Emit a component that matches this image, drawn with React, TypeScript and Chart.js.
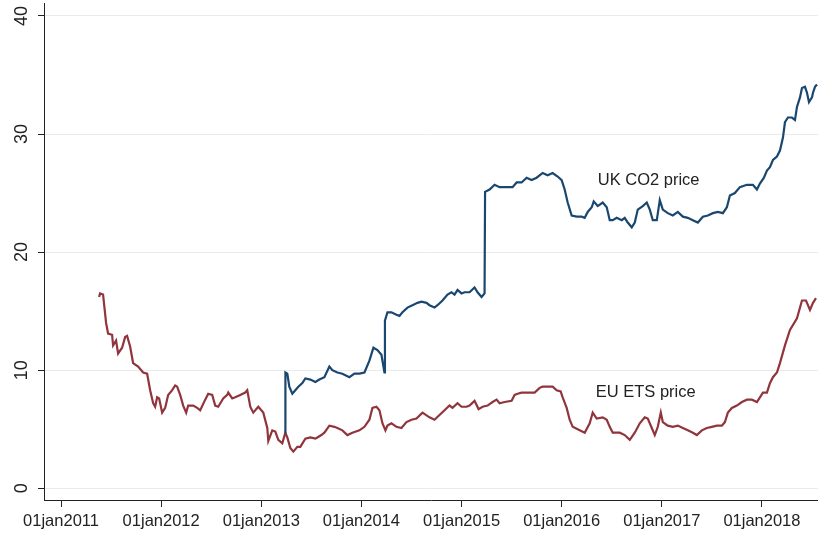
import React, { useEffect, useRef } from "react";
import { Chart, registerables } from "chart.js";

Chart.register(...registerables);

const xTickYears = [2011, 2012, 2013, 2014, 2015, 2016, 2017, 2018];
const yTickValues = [0, 10, 20, 30, 40];

const euYears = [
  2011.38, 2011.39, 2011.42, 2011.45, 2011.47, 2011.51, 2011.52, 2011.55, 2011.57, 2011.61,
  2011.64, 2011.66, 2011.69, 2011.72, 2011.77, 2011.82, 2011.86, 2011.89, 2011.92, 2011.94,
  2011.96, 2011.98, 2012.01, 2012.04, 2012.07, 2012.11, 2012.14, 2012.16, 2012.19, 2012.22,
  2012.25, 2012.27, 2012.32, 2012.36, 2012.39, 2012.44, 2012.47, 2012.51, 2012.54, 2012.57,
  2012.62, 2012.66, 2012.67, 2012.71, 2012.74, 2012.79, 2012.84, 2012.86, 2012.89, 2012.92,
  2012.97, 2013.02, 2013.06, 2013.07, 2013.11, 2013.14, 2013.17, 2013.21, 2013.24, 2013.26,
  2013.29, 2013.32, 2013.36, 2013.39, 2013.44, 2013.49, 2013.54, 2013.56, 2013.60, 2013.63,
  2013.68, 2013.73, 2013.76, 2013.81, 2013.86, 2013.91, 2013.98, 2014.03, 2014.08, 2014.11,
  2014.15, 2014.18, 2014.21, 2014.24, 2014.26, 2014.30, 2014.35, 2014.40, 2014.45, 2014.50,
  2014.55, 2014.61, 2014.68, 2014.73, 2014.78, 2014.83, 2014.88, 2014.91, 2014.96, 2015.00,
  2015.05, 2015.08, 2015.13, 2015.17, 2015.21, 2015.26, 2015.31, 2015.35, 2015.38, 2015.43,
  2015.50, 2015.53, 2015.56, 2015.60, 2015.63, 2015.68, 2015.73, 2015.78, 2015.81, 2015.86,
  2015.91, 2015.95, 2015.99, 2016.01, 2016.05, 2016.08, 2016.11, 2016.18, 2016.23, 2016.28,
  2016.31, 2016.35, 2016.41, 2016.45, 2016.48, 2016.51, 2016.58, 2016.63, 2016.68, 2016.73,
  2016.78, 2016.83, 2016.86, 2016.90, 2016.93, 2016.96, 2016.99, 2017.01, 2017.06, 2017.11,
  2017.16, 2017.21, 2017.26, 2017.31, 2017.35, 2017.40, 2017.45, 2017.50, 2017.55, 2017.60,
  2017.63, 2017.66, 2017.70, 2017.75, 2017.80, 2017.85, 2017.90, 2017.95, 2017.98, 2018.01,
  2018.05, 2018.08, 2018.11, 2018.15, 2018.18, 2018.23, 2018.28, 2018.35, 2018.40, 2018.44,
  2018.48, 2018.51, 2018.54,
];
const euPrices = [
  16.2, 16.5, 16.4, 14.0, 13.1, 13.0, 12.1, 12.5, 11.4, 11.9,
  12.8, 12.9, 12.0, 10.6, 10.3, 9.8, 9.7, 8.3, 7.2, 6.9,
  7.7, 7.6, 6.4, 6.8, 7.9, 8.3, 8.7, 8.6, 7.9, 7.0,
  6.4, 7.0, 7.0, 6.8, 6.6, 7.5, 8.0, 7.9, 7.0, 6.9,
  7.6, 7.9, 8.1, 7.6, 7.7, 7.9, 8.1, 8.3, 6.9, 6.4,
  6.9, 6.4, 5.1, 4.0, 4.9, 4.8, 4.1, 3.8, 4.7, 4.3,
  3.4, 3.1, 3.5, 3.5, 4.2, 4.3, 4.2, 4.3, 4.5, 4.7,
  5.3, 5.2, 5.1, 4.9, 4.5, 4.7, 4.9, 5.2, 5.8, 6.8,
  6.9, 6.6, 5.5, 4.9, 5.3, 5.5, 5.2, 5.1, 5.6, 5.8,
  5.9, 6.4, 6.0, 5.8, 6.2, 6.6, 7.0, 6.8, 7.2, 6.9,
  6.9, 7.0, 7.4, 6.7, 6.9, 7.0, 7.3, 7.5, 7.2, 7.3,
  7.4, 7.9, 8.0, 8.1, 8.1, 8.1, 8.1, 8.5, 8.6, 8.6,
  8.6, 8.3, 8.2, 7.7, 6.8, 5.8, 5.2, 4.9, 4.7, 5.5,
  6.4, 5.9, 6.0, 5.8, 5.2, 4.7, 4.7, 4.5, 4.1, 4.7,
  5.5, 6.0, 5.9, 5.1, 4.5, 5.2, 6.4, 5.6, 5.3, 5.2,
  5.3, 5.1, 4.9, 4.7, 4.5, 4.9, 5.1, 5.2, 5.3, 5.3,
  5.6, 6.4, 6.8, 7.0, 7.3, 7.5, 7.5, 7.3, 7.7, 8.1,
  8.1, 8.9, 9.4, 9.8, 10.6, 12.1, 13.4, 14.4, 15.9, 15.9,
  15.1, 15.7, 16.1,
];

const ukYears = [
  2013.24, 2013.241, 2013.26, 2013.28, 2013.31, 2013.34, 2013.37, 2013.41, 2013.44, 2013.49,
  2013.54, 2013.58, 2013.63, 2013.68, 2013.71, 2013.76, 2013.81, 2013.88, 2013.93, 2013.98,
  2014.03, 2014.08, 2014.12, 2014.16, 2014.20, 2014.23, 2014.235, 2014.26, 2014.30, 2014.35,
  2014.38, 2014.41, 2014.46, 2014.51, 2014.56, 2014.60, 2014.65, 2014.68, 2014.73, 2014.76,
  2014.81, 2014.86, 2014.90, 2014.93, 2014.96, 2015.00, 2015.03, 2015.08, 2015.13, 2015.16,
  2015.20, 2015.23, 2015.235, 2015.28, 2015.33, 2015.38, 2015.45, 2015.51, 2015.55, 2015.60,
  2015.65, 2015.70, 2015.75, 2015.81, 2015.86, 2015.91, 2015.96, 2016.00, 2016.03, 2016.06,
  2016.10, 2016.15, 2016.20, 2016.23, 2016.26, 2016.30, 2016.32, 2016.36, 2016.41, 2016.45,
  2016.48, 2016.51, 2016.55, 2016.60, 2016.63, 2016.66, 2016.70, 2016.73, 2016.76, 2016.81,
  2016.85, 2016.88, 2016.91, 2016.95, 2016.98, 2017.01, 2017.06, 2017.11, 2017.16, 2017.21,
  2017.26, 2017.31, 2017.36, 2017.41, 2017.46, 2017.51, 2017.56, 2017.61, 2017.65, 2017.68,
  2017.73, 2017.78, 2017.85, 2017.91, 2017.95, 2017.98, 2018.02, 2018.05, 2018.08, 2018.11,
  2018.15, 2018.18, 2018.21, 2018.23, 2018.26, 2018.30, 2018.33, 2018.35, 2018.38, 2018.40,
  2018.43, 2018.45, 2018.47, 2018.50, 2018.51, 2018.53, 2018.55,
];
const ukPrices = [
  4.7, 9.8, 9.7, 8.6, 8.0, 8.3, 8.6, 8.9, 9.3, 9.2,
  9.0, 9.2, 9.4, 10.3, 10.0, 9.8, 9.7, 9.4, 9.7, 9.7,
  9.8, 10.8, 11.9, 11.7, 11.3, 9.8, 14.2, 14.9, 14.9, 14.7,
  14.6, 14.9, 15.3, 15.5, 15.7, 15.8, 15.7, 15.5, 15.3, 15.5,
  15.9, 16.4, 16.6, 16.4, 16.8, 16.5, 16.6, 16.6, 17.0, 16.6,
  16.2, 16.5, 25.1, 25.3, 25.7, 25.5, 25.5, 25.5, 25.9, 25.9,
  26.3, 26.1, 26.3, 26.7, 26.5, 26.7, 26.4, 26.1, 25.3, 24.2,
  23.1, 23.0, 23.0, 22.9, 23.4, 23.8, 24.3, 23.9, 24.2, 23.8,
  22.7, 22.7, 22.9, 22.7, 22.9, 22.5, 22.1, 22.5, 23.6, 23.9,
  24.2, 23.6, 22.7, 22.7, 24.4, 23.6, 23.3, 23.1, 23.4, 23.0,
  22.9, 22.7, 22.5, 23.0, 23.1, 23.3, 23.4, 23.3, 23.8, 24.8,
  25.0, 25.5, 25.7, 25.7, 25.3, 25.8, 26.3, 26.9, 27.2, 27.8,
  28.1, 28.6, 29.7, 31.0, 31.4, 31.4, 31.2, 32.3, 33.1, 33.9,
  34.0, 33.5, 32.7, 33.1, 33.5, 34.0, 34.2,
];

const seriesLabels = ["UK CO2 price", "EU ETS price"];
const labelAnchors = [
  { year: 2016.36, value: 26.1 },
  { year: 2016.34, value: 8.1 },
];

const FONT = "'Liberation Sans', Arial, sans-serif";
const TEXT = "#222222";

export default function App() {
  const canvasRef = useRef<HTMLCanvasElement | null>(null);

  useEffect(() => {
    document.body.style.margin = "0";
    const canvas = canvasRef.current;
    if (!canvas) return;

    const textPlugin = {
      id: "stataText",
      afterDraw(chart: any) {
        const ctx = chart.ctx;
        const xs = chart.scales.x;
        const ys = chart.scales.y;
        ctx.save();
        ctx.fillStyle = TEXT;
        ctx.font = `18px ${FONT}`;
        ctx.textAlign = "center";
        ctx.textBaseline = "middle";
        yTickValues.forEach((v) => {
          const py = ys.getPixelForValue(v);
          ctx.save();
          ctx.translate(22.5, py);
          ctx.rotate(-Math.PI / 2);
          ctx.fillText(String(v), 0, 0);
          ctx.restore();
        });
        ctx.font = `16.5px ${FONT}`;
        ctx.textAlign = "left";
        seriesLabels.forEach((t, i) => {
          const a = labelAnchors[i];
          ctx.fillText(t, xs.getPixelForValue(a.year), ys.getPixelForValue(a.value));
        });
        ctx.restore();
      },
    };

    const chart = new Chart(canvas, {
      type: "line",
      data: {
        datasets: [
          {
            label: seriesLabels[0],
            data: ukYears.map((x, i) => ({ x, y: ukPrices[i] })),
            borderColor: "#1a476f",
            borderWidth: 2.2,
            pointRadius: 0,
            tension: 0,
            fill: false,
          },
          {
            label: seriesLabels[1],
            data: euYears.map((x, i) => ({ x, y: euPrices[i] })),
            borderColor: "#90353b",
            borderWidth: 2.2,
            pointRadius: 0,
            tension: 0,
            fill: false,
          },
        ],
      },
      options: {
        responsive: false,
        animation: false,
        layout: { padding: { top: 3, right: 0, left: 0, bottom: 0 } },
        plugins: {
          legend: { display: false },
          tooltip: { enabled: false },
        },
        scales: {
          x: {
            type: "linear",
            min: 2010.83,
            max: 2018.56,
            afterBuildTicks: (s: any) => {
              s.ticks = xTickYears.map((v) => ({ value: v }));
            },
            afterFit: (s: any) => {
              s.height = 34;
            },
            ticks: {
              autoSkip: false,
              maxRotation: 0,
              minRotation: 0,
              color: TEXT,
              font: { family: FONT, size: 16.5 },
              padding: 5,
              callback: (v: any) => `01jan${v}`,
            },
            grid: {
              drawOnChartArea: false,
              drawTicks: true,
              tickLength: 7,
              tickColor: TEXT,
            },
            border: { display: true, color: TEXT, width: 1 },
          },
          y: {
            type: "linear",
            min: -1.0,
            max: 41.1,
            afterBuildTicks: (s: any) => {
              s.ticks = yTickValues.map((v) => ({ value: v }));
            },
            afterFit: (s: any) => {
              s.width = 44;
            },
            ticks: { display: false },
            grid: {
              color: "#eaeaea",
              lineWidth: 1,
              drawTicks: true,
              tickLength: 6,
              tickColor: TEXT,
            },
            border: { display: true, color: TEXT, width: 1 },
          },
        },
      },
      plugins: [textPlugin],
    });

    return () => chart.destroy();
  }, []);

  return (
    <div style={{ position: "fixed", left: 0, top: 0, width: 818, height: 534, background: "#fff" }}>
      <canvas ref={canvasRef} width={818} height={534} />
    </div>
  );
}
